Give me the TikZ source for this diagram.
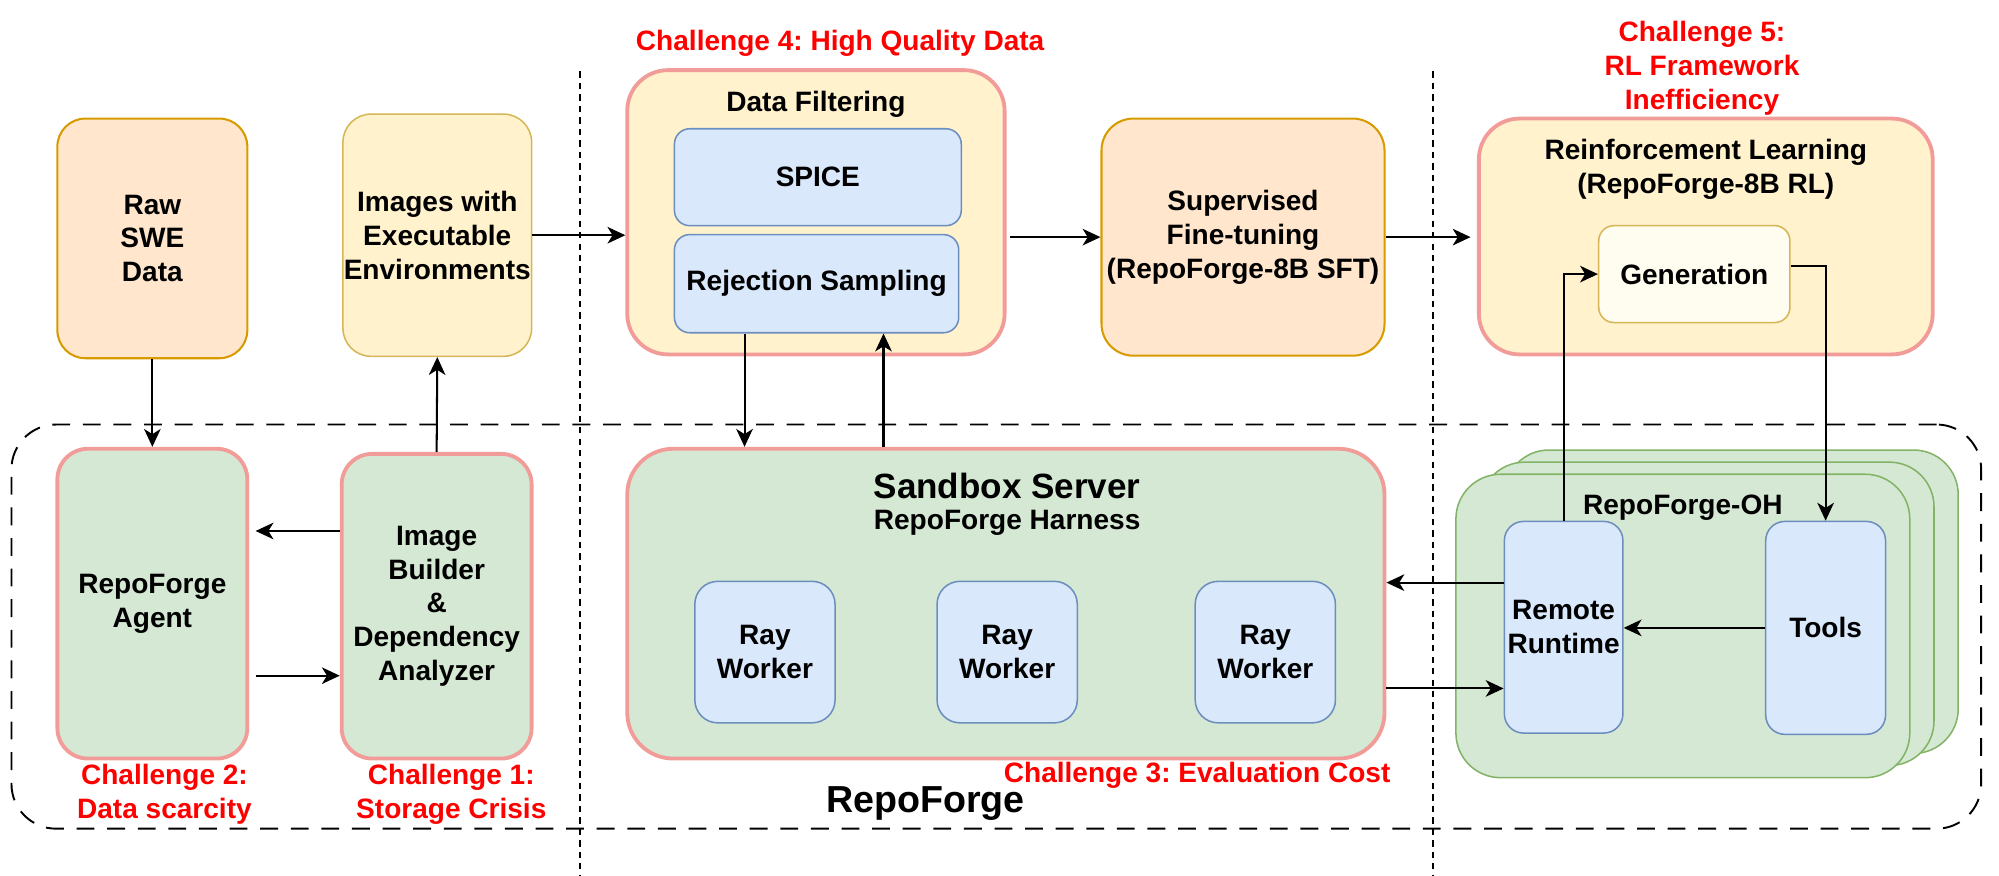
\documentclass[tikz,border=0pt]{standalone}
\usepackage{fontspec}
\setmainfont{Liberation Sans}
\usepackage{tikz}
\usetikzlibrary{arrows.meta}
\frenchspacing

\definecolor{peachfill}{HTML}{FFE6CC}
\definecolor{peachline}{HTML}{D79B00}
\definecolor{yelfill}{HTML}{FFF2CC}
\definecolor{yelline}{HTML}{D6B656}
\definecolor{bluefill}{HTML}{DAE8FC}
\definecolor{blueline}{HTML}{6C8EBF}
\definecolor{greenfill}{HTML}{D5E8D4}
\definecolor{greenline}{HTML}{82B366}
\definecolor{pinkline}{HTML}{F19C99}
\definecolor{genfill}{HTML}{FFFDF0}
\definecolor{chalred}{HTML}{FF0000}

\begin{document}
\begin{tikzpicture}[x=1pt,y=-1pt,
  lbl/.style={font=\fontsize{22}{26.5}\selectfont\bfseries, align=center, inner sep=0pt},
  chal/.style={lbl, text=chalred},
  peach/.style={lbl, fill=peachfill, draw=peachline, line width=1.6pt},
  yel/.style={lbl, fill=yelfill, draw=yelline, line width=1.2pt},
  hot/.style={lbl, draw=pinkline, line width=3pt},
  blu/.style={lbl, fill=bluefill, draw=blueline, line width=1.2pt},
  grn/.style={lbl, fill=greenfill, draw=greenline, line width=1.2pt},
  arr/.style={-{Stealth[length=14pt,width=13pt,inset=4pt]}, line width=1.6pt},
  sep/.style={dash pattern=on 5pt off 4pt, line width=1pt},
]
\useasboundingbox (0,0) rectangle (1568,687);

%% RepoForge frame and the two separators
\node[draw, dash pattern=on 14pt off 10pt, line width=1.5pt, rounded corners=35pt,
  minimum width=1545pt, minimum height=317pt] (forge) at (781.5,491.5) {};
\draw[sep] (455,56) -- (455,687);
\draw[sep] (1124,56) -- (1124,687);

%% top row
\node[peach, rounded corners=22pt, minimum width=149pt, minimum height=188pt] (raw) at (119.5,187) {Raw\\SWE\\Data};
\node[yel, rounded corners=22pt, minimum width=148pt, minimum height=190pt] (images) at (343,184.5) {Images with\\Executable\\Environments};
\node[hot, fill=yelfill, rounded corners=32pt, minimum width=296pt, minimum height=223pt] (filt) at (640,166.5) {};
\node[lbl] at (640,81.5) {Data Filtering};
\node[blu, rounded corners=12pt, minimum width=225pt, minimum height=76pt] (spice) at (641.5,139) {SPICE};
\node[blu, rounded corners=12pt, minimum width=223pt, minimum height=77pt] (rej) at (640.5,222.5) {Rejection Sampling};
\node[peach, rounded corners=25pt, minimum width=222pt, minimum height=186pt] (sft) at (975,186) {Supervised\\Fine-tuning\\(RepoForge-8B SFT)};
\node[hot, fill=yelfill, rounded corners=32pt, minimum width=356pt, minimum height=185pt] (rl) at (1338,185.5) {};
\node[lbl] at (1338,132.5) {Reinforcement Learning\\(RepoForge-8B RL)};
\node[yel, fill=genfill, rounded corners=12pt, minimum width=150pt, minimum height=76pt] (gen) at (1329,215) {Generation};

%% bottom row
\node[hot, fill=greenfill, rounded corners=24pt, minimum width=149pt, minimum height=243pt] (agent) at (119.5,473.5) {RepoForge\\Agent};
\node[hot, fill=greenfill, rounded corners=24pt, minimum width=149pt, minimum height=239pt] (builder) at (342.5,475.5) {Image\\Builder\\\&\\Dependency\\Analyzer};
\node[hot, fill=greenfill, rounded corners=36pt, minimum width=594pt, minimum height=243pt] (sandbox) at (789,473.5) {};
\node[lbl, font=\fontsize{27.5}{33}\selectfont\bfseries] at (790,381) {Sandbox Server};
\node[lbl] at (790,410) {RepoForge Harness};
\node[blu, rounded corners=18pt, minimum width=110pt, minimum height=111pt] (ray1) at (600,511.5) {Ray\\Worker};
\node[blu, rounded corners=18pt, minimum width=110pt, minimum height=111pt] (ray2) at (790,511.5) {Ray\\Worker};
\node[blu, rounded corners=18pt, minimum width=110pt, minimum height=111pt] (ray3) at (992.5,511.5) {Ray\\Worker};

%% OpenHands stack
\node[grn, rounded corners=35pt, minimum width=356pt, minimum height=238pt] (oh3) at (1358,472) {};
\node[grn, rounded corners=35pt, minimum width=356pt, minimum height=238pt] (oh2) at (1339,481.5) {};
\node[grn, rounded corners=35pt, minimum width=356pt, minimum height=238pt] (oh1) at (1320,491) {};
\node[lbl] at (1320,398) {RepoForge-OH};
\node[blu, rounded corners=15pt, minimum width=93pt, minimum height=166pt] (remote) at (1226.5,492) {Remote\\Runtime};
\node[blu, rounded corners=15pt, minimum width=94pt, minimum height=167pt] (tools) at (1432,492.5) {Tools};

%% challenges
\node[chal] at (659,34) {Challenge 4: High Quality Data};
\node[chal] at (1335,53.5) {Challenge 5:\\RL Framework\\Inefficiency};
\node[chal] at (129,623) {Challenge 2:\\Data scarcity};
\node[chal] at (354,623) {Challenge 1:\\Storage Crisis};
\node[chal] at (939,608) {Challenge 3: Evaluation Cost};
\node[lbl, font=\fontsize{29.5}{35}\selectfont\bfseries] at (726,630) {RepoForge};

%% flow
\draw[arr] (raw.south) -- (agent.north);
\draw[arr] (builder.north) -- (images.south);
\draw[arr] (images.east |- 0,184.5) -- (filt.west |- 0,184.5);
\draw[arr, shorten >=5pt] (builder.west |- 0,416.5) -- (agent.east |- 0,416.5);
\draw[arr, shorten <=5pt] (agent.east |- 0,530) -- (builder.west |- 0,530);
\draw[arr] (rej.south -| 584,0) -- (sandbox.north -| 584,0);
\draw[arr] (sandbox.north -| 693,0) -- (rej.south -| 693,0);
\draw[arr, shorten <=3pt] (filt.east |- 0,186) -- (sft.west |- 0,186);
\draw[arr, shorten >=5pt] (sft.east |- 0,186) -- (rl.west |- 0,186);
\draw[arr] (remote.north) |- (gen.west);
\draw[arr] (gen.east |- 0,209) -| (tools.north);
\draw[arr] (tools.west) -- (tools.west -| remote.east);
\draw[arr] (remote.west |- 0,457) -- (sandbox.east |- 0,457);
\draw[arr] (sandbox.east |- 0,540) -- (remote.west |- 0,540);
\end{tikzpicture}
\end{document}
